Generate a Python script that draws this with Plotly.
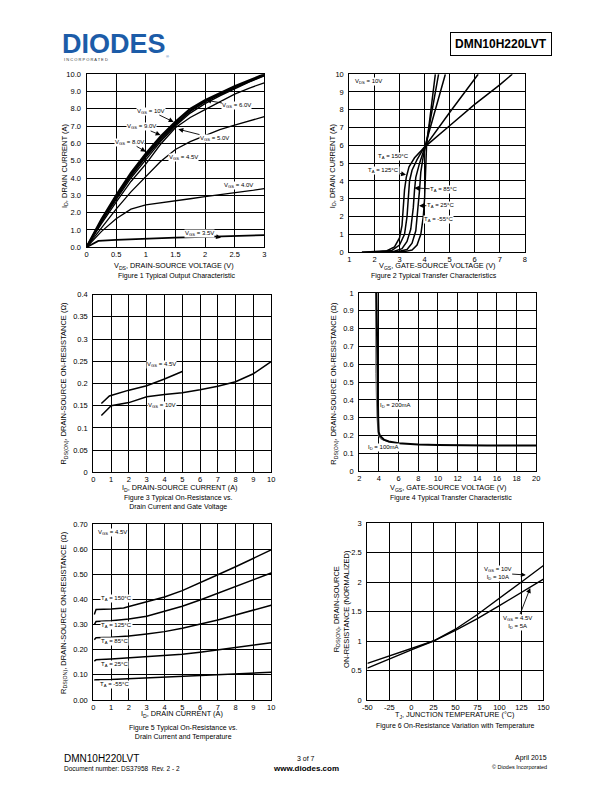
import plotly.graph_objects as go

W, H = 612, 792
FONT = "Liberation Sans, Arial, sans-serif"

# ---------------- Figure 1: Typical Output Characteristic ----------------
f1_vds = [0, 0.25, 0.5, 0.75, 1.0, 1.25, 1.5, 1.75, 2.0, 2.25, 2.5, 2.75, 3.0]
f1_id_10v = [0, 1.6, 3.0, 4.3, 5.4, 6.4, 7.25, 8.0, 8.5, 8.9, 9.3, 9.65, 10.0]
f1_id_9v = [0, 1.55, 2.92, 4.2, 5.3, 6.3, 7.15, 7.9, 8.45, 8.85, 9.25, 9.6, 9.97]
f1_id_8v = [0, 1.5, 2.85, 4.12, 5.2, 6.2, 7.08, 7.85, 8.4, 8.82, 9.22, 9.58, 9.94]
f1_id_6v = [0, 1.45, 2.75, 4.0, 5.05, 6.1, 7.0, 7.75, 8.3, 8.75, 9.15, 9.55, 9.9]
f1_id_5v = [0, 1.35, 2.6, 3.8, 4.8, 5.95, 6.9, 7.5, 7.95, 8.4, 8.85, 9.2, 9.5]
f1_id_45v = [0, 1.1, 2.2, 3.2, 4.1, 4.95, 5.65, 6.1, 6.45, 6.8, 7.05, 7.3, 7.55]
f1_id_4v = [0, 0.9, 1.65, 2.2, 2.45, 2.58, 2.7, 2.8, 2.92, 3.03, 3.15, 3.27, 3.38]
f1_vds_35 = [0, 0.2, 0.5, 1.0, 1.5, 2.0, 2.5, 3.0]
f1_id_35v = [0, 0.36, 0.42, 0.5, 0.55, 0.6, 0.65, 0.7]
f1_xticks = [0, 0.5, 1, 1.5, 2, 2.5, 3]
f1_xtext = ["0", "0.5", "1", "1.5", "2", "2.5", "3"]
f1_yticks = [0, 1, 2, 3, 4, 5, 6, 7, 8, 9, 10]
f1_ytext = ["0.0", "1.0", "2.0", "3.0", "4.0", "5.0", "6.0", "7.0", "8.0", "9.0", "10.0"]

# ---------------- Figure 2: Typical Transfer Characteristics ----------------
f2_vgs_150 = [1.5, 2.0, 2.5, 2.8, 3.0, 3.1, 3.15, 3.2, 3.27, 3.38, 3.6, 3.9, 4.0, 5.0, 6.0, 7.0, 7.5]
f2_id_150 = [0, 0.02, 0.08, 0.3, 0.8, 1.5, 2.5, 3.5, 4.2, 4.8, 5.3, 5.75, 5.9, 7.1, 8.3, 9.4, 10.0]
f2_vgs_125 = [1.5, 2.2, 2.7, 3.0, 3.2, 3.3, 3.35, 3.4, 3.5, 3.7, 3.95, 4.05, 5.0, 6.14]
f2_id_125 = [0, 0.02, 0.1, 0.4, 1.0, 2.0, 3.0, 4.0, 4.6, 5.2, 5.8, 6.0, 7.85, 10.0]
f2_vgs_85 = [2.0, 2.8, 3.1, 3.3, 3.45, 3.55, 3.6, 3.65, 3.8, 4.0, 4.83]
f2_id_85 = [0, 0.05, 0.2, 0.6, 1.3, 2.5, 3.5, 4.2, 5.0, 5.85, 10.0]
f2_vgs_25 = [2.4, 3.0, 3.3, 3.5, 3.65, 3.75, 3.8, 3.85, 3.95, 4.05, 4.56]
f2_id_25 = [0, 0.05, 0.15, 0.5, 1.2, 2.5, 3.5, 4.5, 5.4, 6.0, 10.0]
f2_vgs_m55 = [2.8, 3.2, 3.5, 3.7, 3.85, 3.95, 4.0, 4.02, 4.04, 4.08, 4.43]
f2_id_m55 = [0, 0.03, 0.12, 0.4, 1.0, 2.0, 3.0, 4.0, 5.0, 6.0, 10.0]
f2_xticks = [1, 2, 3, 4, 5, 6, 7, 8]
f2_yticks = [0, 1, 2, 3, 4, 5, 6, 7, 8, 9, 10]

# ---------------- Figure 3: On-Resistance vs Drain Current and Gate Voltage ----------------
f3_id_45 = [0.45, 0.9, 2.0, 3.0, 4.0, 5.0]
f3_r_45 = [0.155, 0.172, 0.185, 0.195, 0.21, 0.227]
f3_id_10 = [0.45, 1.0, 2.0, 3.0, 4.0, 5.0, 6.0, 7.0, 8.0, 9.0, 10.0]
f3_r_10 = [0.128, 0.15, 0.157, 0.17, 0.175, 0.179, 0.186, 0.194, 0.204, 0.222, 0.249]
f3_xticks = [0, 1, 2, 3, 4, 5, 6, 7, 8, 9, 10]
f3_yticks = [0, 0.05, 0.1, 0.15, 0.2, 0.25, 0.3, 0.35, 0.4]
f3_ytext = ["0", "0.05", "0.1", "0.15", "0.2", "0.25", "0.3", "0.35", "0.4"]

# ---------------- Figure 4: Typical Transfer Characteristic ----------------
f4_vgs_200 = [3.75, 3.8, 3.86, 3.93, 3.98, 4.1, 4.5, 5.0, 6.0, 7.0, 8.0, 10.0, 12.0, 15.0, 20.0]
f4_r_200 = [1.0, 0.7, 0.45, 0.3, 0.22, 0.2, 0.178, 0.167, 0.158, 0.153, 0.15, 0.147, 0.145, 0.145, 0.145]
f4_vgs_100 = [3.66, 3.68, 3.8, 3.95, 4.2, 5.0, 6.0]
f4_r_100 = [1.0, 0.55, 0.3, 0.2, 0.18, 0.165, 0.157]
f4_xticks = [2, 4, 6, 8, 10, 12, 14, 16, 18, 20]
f4_yticks = [0, 0.1, 0.2, 0.3, 0.4, 0.5, 0.6, 0.7, 0.8, 0.9, 1.0]
f4_ytext = ["0", "0.1", "0.2", "0.3", "0.4", "0.5", "0.6", "0.7", "0.8", "0.9", "1"]

# ---------------- Figure 5: On-Resistance vs Drain Current and Temperature ----------------
f5_id = [0.05, 0.15, 1, 1.7, 2, 3, 4, 5, 6, 7, 8, 9, 10]
f5_r_150 = [0.34, 0.36, 0.362, 0.366, 0.372, 0.39, 0.41, 0.435, 0.465, 0.498, 0.53, 0.565, 0.597]
f5_r_125 = [0.3, 0.312, 0.315, 0.318, 0.322, 0.333, 0.352, 0.373, 0.398, 0.425, 0.452, 0.48, 0.505]
f5_r_85 = [0.24, 0.248, 0.25, 0.253, 0.255, 0.263, 0.272, 0.285, 0.3, 0.318, 0.338, 0.357, 0.377]
f5_r_25 = [0.155, 0.16, 0.163, 0.166, 0.167, 0.172, 0.177, 0.182, 0.19, 0.2, 0.208, 0.218, 0.228]
f5_r_m55 = [0.08, 0.081, 0.082, 0.084, 0.085, 0.088, 0.09, 0.093, 0.097, 0.1, 0.103, 0.106, 0.11]
f5_xticks = [0, 1, 2, 3, 4, 5, 6, 7, 8, 9, 10]
f5_yticks = [0, 0.1, 0.2, 0.3, 0.4, 0.5, 0.6, 0.7]
f5_ytext = ["0.00", "0.10", "0.20", "0.30", "0.40", "0.50", "0.60", "0.70"]

# ---------------- Figure 6: On-Resistance Variation with Temperature ----------------
f6_tj = [-50, -25, 0, 25, 50, 75, 100, 125, 150]
f6_r_10v = [0.54, 0.7, 0.85, 1.0, 1.2, 1.45, 1.72, 2.0, 2.28]
f6_r_45v = [0.62, 0.75, 0.87, 1.0, 1.18, 1.38, 1.6, 1.82, 2.05]
f6_xticks = [-50, -25, 0, 25, 50, 75, 100, 125, 150]
f6_yticks = [0, 0.5, 1, 1.5, 2, 2.5, 3]
f6_ytext = ["0", "0.5", "1", "1.5", "2", "2.5", "3"]


def px(x):
    return x / W


def py(y):
    return 1 - y / H


fig = go.Figure()


def line(x, y, ax, width=1.3, color="black"):
    fig.add_trace(go.Scatter(x=x, y=y, mode="lines", xaxis="x" + ax, yaxis="y" + ax,
                             line=dict(color=color, width=width), showlegend=False,
                             hoverinfo="skip"))


def axis(dom, rng, tv, tt, anchor, standoff):
    return dict(domain=dom, range=rng, tickvals=tv, ticktext=tt, showgrid=True,
                gridcolor="black", gridwidth=1, showline=True, linecolor="black",
                linewidth=1.2, mirror=True, zeroline=False, ticks="",
                tickfont=dict(size=7.5, color="black", family=FONT), anchor=anchor,
                fixedrange=True, ticklabelstandoff=standoff)


panels = {
    "": dict(xp=(83, 264), yp=(71, 246), xr=[0, 3], yr=[0, 10],
             xt=(f1_xticks, f1_xtext), yt=(f1_yticks, f1_ytext)),
    "2": dict(xp=(350.7, 529.3), yp=(71, 251), xr=[1, 8], yr=[0, 10],
              xt=(f2_xticks, [str(v) for v in f2_xticks]), yt=(f2_yticks, [str(v) for v in f2_yticks])),
    "3": dict(xp=(90, 271), yp=(294, 473.7), xr=[0, 10], yr=[0, 0.4],
              xt=(f3_xticks, [str(v) for v in f3_xticks]), yt=(f3_yticks, f3_ytext)),
    "4": dict(xp=(360.7, 541), yp=(292.3, 472.7), xr=[2, 20], yr=[0, 1],
              xt=(f4_xticks, [str(v) for v in f4_xticks]), yt=(f4_yticks, f4_ytext)),
    "5": dict(xp=(90, 271), yp=(526, 704), xr=[0, 10], yr=[0, 0.7],
              xt=(f5_xticks, [str(v) for v in f5_xticks]), yt=(f5_yticks, f5_ytext)),
    "6": dict(xp=(369, 548.3), yp=(525, 704), xr=[-50, 150], yr=[0, 3],
              xt=(f6_xticks, [str(v) for v in f6_xticks]), yt=(f6_yticks, f6_ytext)),
}

layout_axes = {}
for k, p in panels.items():
    layout_axes["xaxis" + k] = axis([px(p["xp"][0]), px(p["xp"][1])], p["xr"], p["xt"][0], p["xt"][1], "y" + k, 0)
    layout_axes["yaxis" + k] = axis([py(p["yp"][1]), py(p["yp"][0])], p["yr"], p["yt"][0], p["yt"][1], "x" + k, 3)

# traces
line(f1_vds, f1_id_4v, "")
line(f1_vds, f1_id_45v, "")
line(f1_vds, f1_id_5v, "")
line(f1_vds, f1_id_6v, "", 1.3)
line(f1_vds, f1_id_8v, "", 1.6)
line(f1_vds, f1_id_9v, "", 1.6)
line(f1_vds, f1_id_10v, "", 2.2)
line(f1_vds_35, f1_id_35v, "", 1.8)

line(f2_vgs_150, f2_id_150, "2", 1.5)
line(f2_vgs_125, f2_id_125, "2", 1.5)
line(f2_vgs_85, f2_id_85, "2", 1.5)
line(f2_vgs_25, f2_id_25, "2", 1.5)
line(f2_vgs_m55, f2_id_m55, "2", 1.5)

line(f3_id_45, f3_r_45, "3", 1.5)
line(f3_id_10, f3_r_10, "3", 1.5)

line(f4_vgs_100, f4_r_100, "4", 1.0, "#777777")
line(f4_vgs_200, f4_r_200, "4", 2.0)

for r in (f5_r_150, f5_r_125, f5_r_85, f5_r_25, f5_r_m55):
    line(f5_id, r, "5", 1.5)

line(f6_tj, f6_r_10v, "6", 1.4)
line(f6_tj, f6_r_45v, "6", 1.4)

ann = []
LBL = dict(size=6, color="black", family=FONT)


def label(ax_, text, x, y, head=None):
    d = dict(text=text, xref="x" + ax_, yref="y" + ax_, font=LBL, bgcolor="white",
             borderpad=0)
    if head is None:
        d.update(x=x, y=y, showarrow=False)
    else:
        d.update(x=head[0], y=head[1], ax=x, ay=y, axref="x" + ax_, ayref="y" + ax_,
                 showarrow=True, arrowhead=2, arrowsize=1.1, arrowwidth=0.9,
                 arrowcolor="black")
    ann.append(d)


label("", "V<sub>GS</sub> = 10V", 1.09, 7.87, (1.47, 7.24))
label("", "V<sub>GS</sub> = 9.0V", 0.92, 6.95, (1.25, 6.48))
label("", "V<sub>GS</sub> = 8.0V", 0.73, 6.06, (1.0, 5.52))
label("", "V<sub>GS</sub> = 6.0V", 2.54, 8.19, (2.02, 8.49))
label("", "V<sub>GS</sub> = 5.0V", 2.16, 6.29, (1.55, 6.82))
label("", "V<sub>GS</sub> = 4.5V", 1.63, 5.2)
label("", "V<sub>GS</sub> = 4.0V", 2.57, 3.58)
label("", "V<sub>GS</sub> = 3.5V", 1.91, 0.82, (2.27, 0.55))

label("2", "V<sub>DS</sub> = 10V", 1.76, 9.6)
label("2", "T<sub>A</sub> = 150°C", 2.78, 5.39)
label("2", "T<sub>A</sub> = 125°C", 2.38, 4.59, (3.26, 4.35))
label("2", "T<sub>A</sub> = 85°C", 4.76, 3.52, (3.59, 3.61))
label("2", "T<sub>A</sub> = 25°C", 4.63, 2.61, (3.78, 2.61))
label("2", "T<sub>A</sub> = -55°C", 4.57, 1.82)

label("3", "V<sub>GS</sub> = 4.5V", 3.85, 0.242)
label("3", "V<sub>GS</sub> = 10V", 3.85, 0.151)

label("4", "I<sub>D</sub> = 200mA", 5.65, 0.371)
label("4", "I<sub>D</sub> = 100mA", 4.43, 0.131)

label("5", "V<sub>GS</sub> = 4.5V", 1.1, 0.667)
label("5", "T<sub>A</sub> = 150°C", 1.29, 0.405)
label("5", "T<sub>A</sub> = 125°C", 1.29, 0.298)
label("5", "T<sub>A</sub> = 85°C", 1.2, 0.232)
label("5", "T<sub>A</sub> = 25°C", 1.2, 0.14)
label("5", "T<sub>A</sub> = -55°C", 1.2, 0.062)

label("6", "V<sub>GS</sub> = 10V<br>I<sub>D</sub> = 10A", 98, 2.15, (130, 2.12))
label("6", "V<sub>GS</sub> = 4.5V<br>I<sub>D</sub> = 5A", 120, 1.32, (135, 1.9))


def ptext(text, x, y, size=7.5, xanchor="center", yanchor="middle", angle=0,
          bold=False, color="black", **kw):
    d = dict(text=("<b>%s</b>" % text) if bold else text, x=px(x), y=py(y),
             xref="paper", yref="paper", showarrow=False, xanchor=xanchor,
             yanchor=yanchor, textangle=angle,
             font=dict(size=size, color=color, family=FONT))
    d.update(kw)
    ann.append(d)


# axis titles
ptext("V<sub>DS</sub>, DRAIN-SOURCE VOLTAGE (V)", 172, 265.5, size=7.3)
ptext("I<sub>D</sub>, DRAIN CURRENT (A)", 61, 163, angle=-90)
ptext("V<sub>GS</sub>, GATE-SOURCE VOLTAGE (V)", 440, 265.5, size=7.3)
ptext("I<sub>D</sub>, DRAIN CURRENT (A)", 334, 163, angle=-90)
ptext("I<sub>D</sub>, DRAIN-SOURCE CURRENT (A)", 178, 489.5, size=7.3)
ptext("R<sub>DS(ON)</sub>, DRAIN-SOURCE ON-RESISTANCE (Ω)", 60, 383, angle=-90)
ptext("V<sub>GS</sub>, GATE-SOURCE VOLTAGE (V)", 451, 489.5, size=7.3)
ptext("R<sub>DS(ON)</sub>, DRAIN-SOURCE ON-RESISTANCE (Ω)", 335, 383, angle=-90)
ptext("I<sub>D</sub>, DRAIN CURRENT (A)", 180, 718.5, size=7.3)
ptext("R<sub>DS(ON)</sub>, DRAIN-SOURCE ON-RESISTANCE (Ω)", 60, 615, angle=-90)
ptext("T<sub>J</sub>, JUNCTION TEMPERATURE (°C)", 458, 719.5, size=7.3)
ptext("R<sub>DS(ON)</sub>, DRAIN-SOURCE<br>ON-RESISTANCE (NORMALIZED)", 342, 612, angle=-90)

# captions
ptext("Figure 1 Typical Output Characteristic", 175, 275.5, size=7)
ptext("Figure 2 Typical Transfer Characteristics", 437, 275.5, size=7)
ptext("Figure 3 Typical On-Resistance vs.<br>Drain Current and Gate Voltage", 176, 504.5, size=7)
ptext("Figure 4 Typical Transfer Characteristic", 454, 499.5, size=7)
ptext("Figure 5 Typical On-Resistance vs.<br>Drain Current and Temperature", 181, 736.5, size=7)
ptext("Figure 6 On-Resistance Variation with Temperature", 459, 730.5, size=7)

# header
ptext("DIODES", 56, 40, size=27, xanchor="left", bold=True, color="#1c5ca8")
ptext("I N C O R P O R A T E D", 58, 56, size=4, xanchor="left", color="#333333")
ptext("®", 162, 53, size=4, xanchor="left", color="#1c5ca8")
ptext("DMN10H220LVT", 505, 40.5, size=12, bold=True, bordercolor="black",
      borderwidth=1, borderpad=4)

# footer
ptext("DMN10H220LVT", 58, 763, size=10, xanchor="left")
ptext("Document number: DS37958  Rev. 2 - 2", 58, 773, size=6.5, xanchor="left")
ptext("3 of 7", 306, 763, size=7)
ptext("www.diodes.com", 306, 773, size=8, bold=True)
ptext("April 2015", 554, 763, size=7, xanchor="right")
ptext("© Diodes Incorporated", 554, 772, size=5.5, xanchor="right")

fig.update_layout(width=W, height=H, margin=dict(l=0, r=0, t=0, b=0),
                  paper_bgcolor="white", plot_bgcolor="white",
                  font=dict(family=FONT, color="black"), annotations=ann,
                  showlegend=False, **layout_axes)

fig.write_html("out.html", config={"displayModeBar": False})
